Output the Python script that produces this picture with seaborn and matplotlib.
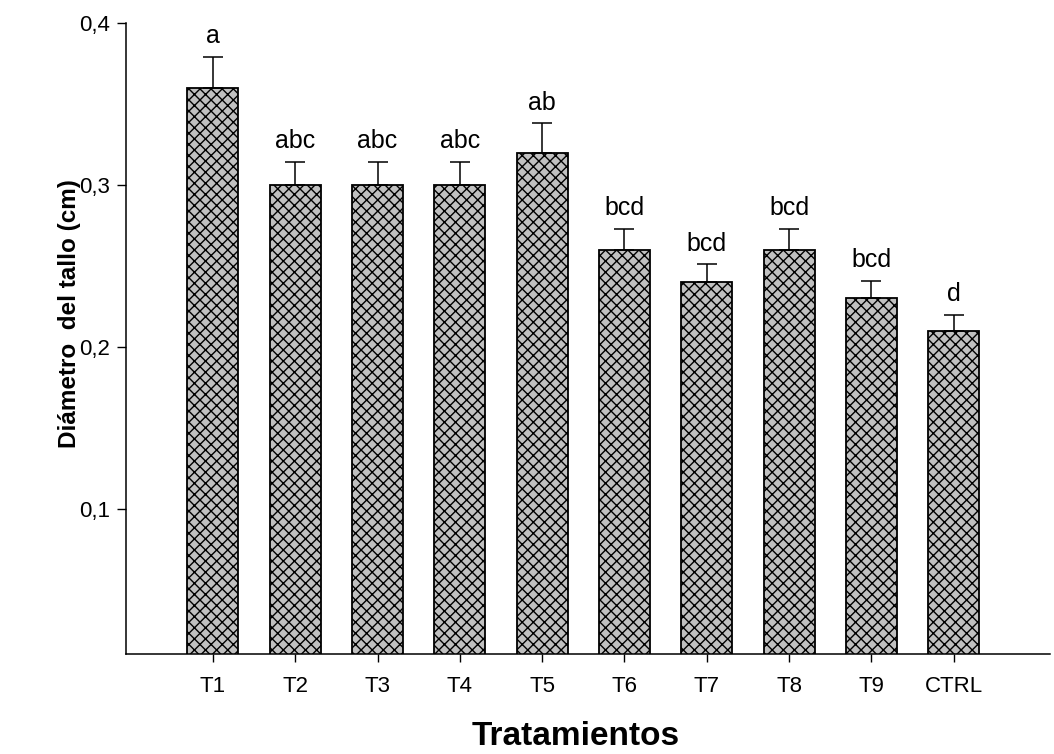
import numpy as np
import pandas as pd
import matplotlib
matplotlib.use("Agg")
import matplotlib.pyplot as plt
from matplotlib.ticker import FixedLocator, FuncFormatter
import seaborn as sns

# Stem diameter per treatment
tratamientos = ["T1", "T2", "T3", "T4", "T5", "T6", "T7", "T8", "T9", "CTRL"]
diametro = [0.36, 0.30, 0.30, 0.30, 0.32, 0.26, 0.24, 0.26, 0.23, 0.21]
error = [0.019, 0.014, 0.014, 0.014, 0.018, 0.013, 0.011, 0.013, 0.011, 0.010]
letras = ["a", "abc", "abc", "abc", "ab", "bcd", "bcd", "bcd", "bcd", "d"]
yticks = [0.1, 0.2, 0.3, 0.4]

sns.set_theme(style="ticks")
plt.rcParams["font.family"] = ["Liberation Sans", "DejaVu Sans"]
plt.rcParams.update({
    "hatch.linewidth": 1.0,
    "text.color": "black",
    "axes.labelcolor": "black",
    "xtick.color": "black",
    "ytick.color": "black",
})

df = pd.DataFrame({"Tratamiento": tratamientos, "Diametro": diametro})

fig = plt.figure(figsize=(10.54, 7.54), dpi=100)
ax = fig.add_axes([0.1195, 0.1326, 0.8767, 0.8369])

sns.barplot(data=df, x="Tratamiento", y="Diametro", order=tratamientos,
            color="#c0c0c0", saturation=1, width=0.62, edgecolor="black",
            linewidth=1.3, hatch="xxx", errorbar=None, ax=ax)

pos = np.arange(len(tratamientos))
ax.errorbar(pos, diametro, yerr=[np.zeros(len(error)), error], fmt="none",
            ecolor="black", elinewidth=1.1, capsize=7, capthick=1.1, zorder=3)

for x, y, e, t in zip(pos, diametro, error, letras):
    ax.annotate(t, xy=(x, y + e), xytext=(0, 10), textcoords="offset points",
                ha="center", va="baseline", fontsize=18, color="black")

ax.set_xlim(-1.057, 10.17)
ax.set_ylim(0.0105, 0.4)
ax.yaxis.set_major_locator(FixedLocator(yticks))
ax.yaxis.set_major_formatter(FuncFormatter(lambda v, p: f"{v:.1f}".replace(".", ",")))

for side in ["top", "right"]:
    ax.spines[side].set_visible(False)
for side in ["left", "bottom"]:
    ax.spines[side].set_linewidth(1.1)
    ax.spines[side].set_color("black")

ax.tick_params(axis="y", direction="out", length=6.5, width=1.0, pad=5,
               labelsize=16)
ax.tick_params(axis="x", direction="out", length=6, width=1.0, pad=10,
               labelsize=16)

ax.set_xlabel("Tratamientos", fontsize=24, fontweight="bold")
ax.xaxis.set_label_coords(0.487, -0.106)
ax.set_ylabel("Diámetro  del tallo (cm)", fontsize=17.5, fontweight="bold")
ax.yaxis.set_label_coords(-0.0606, 0.539)
ax.yaxis.label.set_va("center")

fig.savefig("out.png", dpi=100)
